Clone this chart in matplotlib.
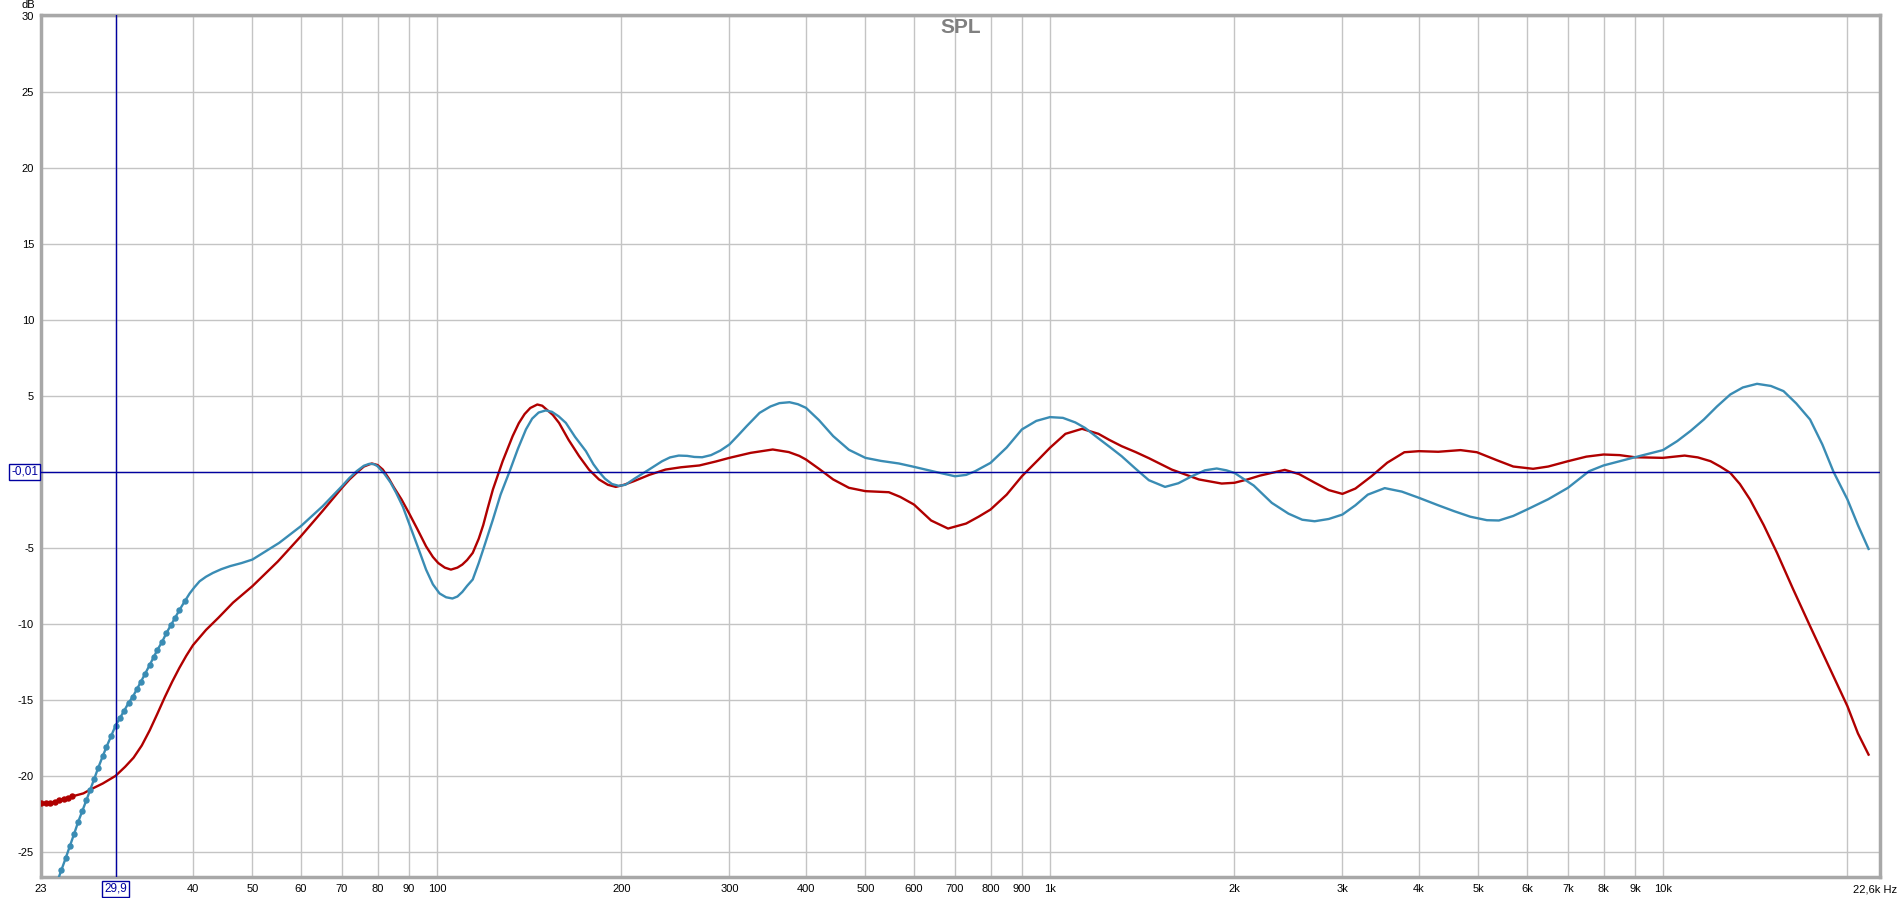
import numpy as np
import matplotlib.pyplot as plt
import matplotlib.transforms as mtransforms

# blue trace (frequency in Hz, level in dB)
blue_freq = [24.0, 24.4, 24.8, 25.2, 25.6, 26.0, 26.4, 26.8, 27.2, 27.6, 28.0, 28.5,
             28.9, 29.4, 29.9, 30.4, 30.9, 31.4, 31.9, 32.4, 32.9, 33.4, 34.0, 34.5,
             35.0, 35.6, 36.2, 36.8, 37.4, 38.0, 38.8,
             39.5, 40.2, 41.0, 42.0, 43.1, 44.5, 46.0, 48.0, 50.0, 55.3, 60.0, 65.1,
             70.0, 72.0, 74.0, 76.0, 77.6, 79.0, 80.0, 82.0, 84.0, 85.8, 88.0, 90.0,
             93.0, 96.0, 98.5, 101.0, 103.5, 106.0, 108.0, 110.0, 112.0, 114.4, 117.0,
             119.0, 123.4, 127.0, 131.3, 135.5, 139.7, 143.0, 146.5, 150.5, 154.0,
             158.0, 162.3, 168.0, 175.0, 180.0, 183.8, 188.0, 193.0, 198.0, 203.0,
             210.0, 221.8, 233.0, 240.0, 248.0, 256.0, 263.0, 270.8, 280.0, 290.0,
             300.0, 310.0, 320.0, 336.0, 350.0, 362.0, 376.0, 388.0, 400.0, 420.0,
             443.0, 470.0, 500.0, 530.0, 567.0, 600.0, 650.0, 700.0, 730.0, 755.0,
             800.0, 850.0, 900.0, 950.0, 1000.0, 1050.0, 1100.0, 1141.0, 1200.0,
             1260.0, 1309.0, 1380.0, 1450.0, 1541.0, 1620.0, 1704.0, 1790.0, 1871.0,
             1940.0, 2000.0, 2150.0, 2301.0, 2450.0, 2580.0, 2703.0, 2850.0, 3000.0,
             3150.0, 3300.0, 3517.0, 3750.0, 4000.0, 4300.0, 4566.0, 4850.0, 5162.0,
             5400.0, 5700.0, 6000.0, 6500.0, 7000.0, 7575.0, 8000.0, 8500.0, 9000.0,
             9500.0, 10000.0, 10550.0, 11100.0, 11660.0, 12250.0, 12880.0, 13500.0,
             14240.0, 15000.0, 15730.0, 16500.0, 17380.0, 18200.0, 18980.0, 20000.0,
             20800.0, 21650.0]
blue_db = [-27.0, -26.2, -25.4, -24.6, -23.8, -23.0, -22.3, -21.6, -20.9, -20.2, -19.5, -18.7,
           -18.1, -17.4, -16.7, -16.2, -15.7, -15.2, -14.8, -14.3, -13.8, -13.3, -12.7, -12.2,
           -11.7, -11.2, -10.6, -10.1, -9.6, -9.1, -8.5,
           -8.0, -7.6, -7.2, -6.9, -6.65, -6.4, -6.2, -6.0, -5.77, -4.67, -3.57, -2.26,
           -0.94, -0.4, 0.05, 0.4, 0.53, 0.5, 0.37, -0.1, -0.7, -1.38, -2.3, -3.36,
           -4.9, -6.43, -7.4, -8.0, -8.25, -8.33, -8.2, -7.9, -7.5, -7.08, -6.0,
           -5.1, -3.14, -1.5, 0.0, 1.5, 2.79, 3.5, 3.9, 4.04, 3.95,
           3.65, 3.22, 2.3, 1.36, 0.5, 0.0, -0.45, -0.8, -0.92, -0.85,
           -0.45, 0.15, 0.7, 0.95, 1.07, 1.05, 0.98, 0.96, 1.1, 1.4,
           1.8, 2.4, 3.0, 3.88, 4.3, 4.52, 4.58, 4.45, 4.21, 3.4,
           2.35, 1.45, 0.92, 0.72, 0.55, 0.33, 0.0, -0.29, -0.2, 0.04,
           0.59, 1.6, 2.79, 3.35, 3.6, 3.55, 3.25, 2.89, 2.2,
           1.55, 1.03, 0.2, -0.55, -0.99, -0.75, -0.29, 0.1, 0.22,
           0.1, -0.07, -0.9, -2.04, -2.75, -3.15, -3.25, -3.1, -2.81,
           -2.2, -1.5, -1.07, -1.3, -1.71, -2.2, -2.59, -2.95, -3.18,
           -3.2, -2.9, -2.48, -1.8, -1.05, 0.04, 0.42, 0.7, 0.96,
           1.2, 1.43, 2.02, 2.7, 3.44, 4.3, 5.09, 5.55,
           5.79, 5.65, 5.31, 4.5, 3.44, 1.8, 0.0, -1.82,
           -3.5, -5.07]

# red trace
red_freq = [22.6, 23.0, 23.4, 23.8, 24.2, 24.6, 25.0, 25.4,
            26.5, 27.2, 28.5, 29.9, 31.0, 32.0, 33.0, 34.0, 35.0, 36.0, 37.0, 38.0,
            39.0, 40.0, 42.0, 44.0, 46.5, 50.0, 55.0, 60.0, 65.0, 70.0, 72.0, 74.0,
            76.0, 78.3, 80.0, 81.6, 83.5, 85.0, 87.5, 90.0, 93.0, 96.0, 98.5, 100.5,
            103.0, 105.4, 108.0, 110.0, 112.0, 114.4, 117.0, 119.0, 121.0, 123.4,
            128.0, 132.9, 136.0, 139.0, 142.0, 145.8, 148.5, 151.0, 154.5, 158.2,
            164.0, 170.6, 177.0, 183.8, 190.0, 195.8, 202.0, 210.0, 222.0, 236.0,
            250.0, 268.0, 285.0, 300.0, 325.0, 353.0, 375.0, 390.0, 400.0, 420.0,
            443.0, 470.0, 500.0, 520.0, 546.0, 570.0, 600.0, 640.0, 682.0, 730.0,
            765.0, 800.0, 850.0, 900.0, 958.0, 1000.0, 1060.0, 1128.0, 1200.0,
            1250.0, 1309.0, 1380.0, 1450.0, 1580.0, 1750.0, 1906.0, 2000.0, 2100.0,
            2200.0, 2416.0, 2550.0, 2700.0, 2850.0, 3000.0, 3150.0, 3346.0, 3550.0,
            3786.0, 4000.0, 4300.0, 4675.0, 4972.0, 5355.0, 5700.0, 6140.0, 6500.0,
            7000.0, 7500.0, 8000.0, 8500.0, 9000.0, 10000.0, 10850.0, 11400.0,
            11960.0, 12400.0, 12880.0, 13350.0, 13870.0, 14600.0, 15350.0, 16300.0,
            17380.0, 18700.0, 20000.0, 20800.0, 21650.0]
red_db = [-21.8, -21.8, -21.75, -21.7, -21.6, -21.5, -21.45, -21.35,
          -21.15, -20.9, -20.5, -20.0, -19.4, -18.8, -18.0, -17.0, -15.9, -14.8, -13.8, -12.9,
          -12.1, -11.4, -10.4, -9.6, -8.6, -7.52, -5.9, -4.23, -2.6, -1.05, -0.5, -0.05,
          0.35, 0.55, 0.45, 0.15, -0.45, -1.0, -1.8, -2.7, -3.8, -4.9, -5.6, -6.0,
          -6.3, -6.43, -6.3, -6.1, -5.8, -5.33, -4.4, -3.5, -2.4, -1.16,
          0.7, 2.35, 3.2, 3.8, 4.2, 4.43, 4.35, 4.1, 3.75, 3.22,
          2.1, 1.03, 0.15, -0.5, -0.85, -0.99, -0.85, -0.6, -0.2, 0.15,
          0.3, 0.42, 0.68, 0.92, 1.25, 1.47, 1.3, 1.05, 0.81, 0.2,
          -0.5, -1.05, -1.27, -1.3, -1.34, -1.65, -2.15, -3.2, -3.73, -3.4,
          -2.95, -2.48, -1.5, -0.29, 0.81, 1.58, 2.5, 2.83, 2.5,
          2.1, 1.69, 1.3, 0.9, 0.15, -0.5, -0.77, -0.72, -0.5,
          -0.25, 0.13, -0.15, -0.7, -1.2, -1.45, -1.1, -0.29, 0.6,
          1.29, 1.36, 1.32, 1.43, 1.29, 0.77, 0.35, 0.2, 0.35,
          0.7, 1.0, 1.14, 1.1, 0.96, 0.92, 1.07, 0.95,
          0.7, 0.35, -0.07, -0.8, -1.82, -3.5, -5.33, -7.7,
          -10.15, -12.9, -15.42, -17.2, -18.6]

x_ticks = [30, 40, 50, 60, 70, 80, 90, 100, 200, 300, 400, 500, 600, 700, 800, 900,
           1000, 2000, 3000, 4000, 5000, 6000, 7000, 8000, 9000, 10000, 20000]
x_labels = ["", "40", "50", "60", "70", "80", "90", "100", "200", "300", "400", "500",
            "600", "700", "800", "900", "1k", "2k", "3k", "4k", "5k", "6k", "7k", "8k",
            "9k", "10k", ""]
y_ticks = [-25, -20, -15, -10, -5, 0, 5, 10, 15, 20, 25, 30]

cursor_freq = 29.9
cursor_db = -0.01

blue_col = "#3a8cb4"
red_col = "#b00000"
cursor_col = "#0000a0"

plt.rcParams["font.family"] = ["Liberation Sans", "DejaVu Sans"]

fig = plt.figure(figsize=(18.99, 8.98), dpi=100)
ax = fig.add_axes([41 / 1899, 21 / 898, 1839 / 1899, 862 / 898])

ax.set_xscale("log")
ax.set_xlim(22.6, 22600)
ax.set_ylim(-26.65, 30.05)

ax.set_xticks(x_ticks)
ax.set_xticklabels(x_labels)
ax.xaxis.set_minor_locator(plt.NullLocator())
ax.set_yticks(y_ticks)
# the 0 label sits under the cursor read-out box
ax.set_yticklabels(["" if v == 0 else str(v) for v in y_ticks])
ax.tick_params(length=0, labelsize=8, colors="black", pad=5)
ax.grid(True, color="#c4c4c4", linewidth=1)
ax.set_axisbelow(True)
for s in ax.spines.values():
    s.set_color("#a8a8a8")
    s.set_linewidth(2.5)

bf = np.array(blue_freq)
bd = np.array(blue_db)
rf = np.array(red_freq)
rd = np.array(red_db)

ax.plot(rf, rd, color=red_col, lw=1.7, zorder=3)
ax.plot(bf, bd, color=blue_col, lw=1.7, zorder=4)
# dotted low-frequency points
m = bf <= 38.8
ax.plot(bf[m], bd[m], "o", color=blue_col, ms=3.6, zorder=4)
m = rf <= 25.4
ax.plot(rf[m], rd[m], "o", color=red_col, ms=3.6, zorder=3)

# cursor
ax.axvline(cursor_freq, color=cursor_col, lw=1, zorder=5)
ax.axhline(cursor_db, color=cursor_col, lw=1, zorder=5)

box = dict(boxstyle="square,pad=0.15", fc="white", ec=cursor_col, lw=1)
xtrans = mtransforms.blended_transform_factory(ax.transData, ax.transAxes)
ytrans = mtransforms.blended_transform_factory(ax.transAxes, ax.transData)
ax.text(cursor_freq, -0.0139, "29,9", transform=xtrans, ha="center", va="center",
        fontsize=8.5, color=cursor_col, bbox=box, clip_on=False, zorder=6)
ax.text(-0.0015, cursor_db, "-0,01", transform=ytrans, ha="right", va="center",
        fontsize=8.5, color=cursor_col, bbox=box, clip_on=False, zorder=6)

ax.text(22.6, -0.0139, "23", transform=xtrans, ha="center", va="center", fontsize=8,
        clip_on=False)
fig.text(1897 / 1899, 1 - 889 / 898, "22,6k Hz", ha="right", va="center", fontsize=8)
fig.text(28 / 1899, 1 - 5 / 898, "dB", ha="center", va="center", fontsize=8)

ax.text(0.5, 0.986, "SPL", transform=ax.transAxes, ha="center", va="center",
        fontsize=15, fontweight="bold", color="#808080")

fig.savefig("out.png", dpi=100)
